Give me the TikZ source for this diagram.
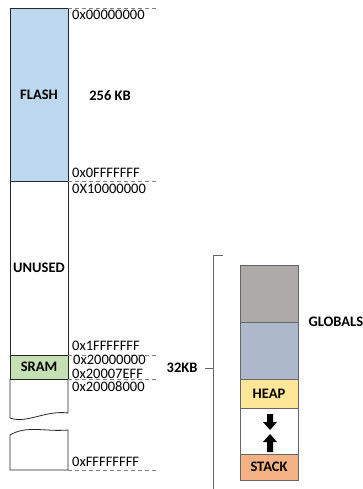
\documentclass[tikz,border=0pt]{standalone}
\usepackage{fontspec}
\setmainfont{Carlito}
\usetikzlibrary{positioning}
\definecolor{flashblue}{HTML}{BDD7EE}
\definecolor{sramgreen}{HTML}{C5E0B4}
\definecolor{globgray}{HTML}{AEAAAA}
\definecolor{globblue}{HTML}{ADB9CA}
\definecolor{heapyellow}{HTML}{FFE699}
\definecolor{stackorange}{HTML}{F4B183}
\newcommand{\labelfont}{\fontsize{14.5}{16}\selectfont}
\tikzstyle{region} = [rectangle, draw=black!85, line width=0.8pt, minimum width=58pt, inner sep=0pt, outer sep=0pt, font=\labelfont\bfseries]
\tikzstyle{seg} = [rectangle, draw=black!60, line width=0.9pt, minimum width=58pt, inner sep=0pt, outer sep=0pt, font=\labelfont\bfseries]
\tikzstyle{addr} = [anchor=west, inner sep=0pt, font=\labelfont]
\tikzstyle{note} = [font=\labelfont\bfseries]
\tikzstyle{sep} = [draw=black!50, line width=0.7pt, dash pattern=on 4pt off 3pt]
\tikzstyle{brace} = [draw=black!60, line width=0.9pt]

\begin{document}
\begin{tikzpicture}[x=1pt, y=-1pt]
\useasboundingbox (0,0) rectangle (363,489);

% memory map
\node (flash) [region, fill=flashblue, minimum height=173pt, anchor=north west] at (10,8) {FLASH};
\node (unused) [region, minimum height=174pt, below=0pt of flash] {UNUSED};
\node (sram) [region, fill=sramgreen, minimum height=24pt, below=0pt of unused] {SRAM};
\draw[line width=0.8pt, draw=black!85] (sram.south west) -- ++(0,39) .. controls (27,424) and (45,410) .. (68,413) -- (sram.south east);
\coordinate (endleft) at (10,470);
\coordinate (endright) at (68,470);
\draw[line width=0.8pt, draw=black!85] (10,435) .. controls (27,425) and (45,432) .. (68,430) -- (endright) -- (endleft) -- cycle;

\draw[sep] (flash.north east) -- ++(89,0);
\draw[sep] (flash.south east) -- ++(89,0);
\draw[sep] (unused.south east) -- ++(89,0);
\draw[sep] (sram.south east) -- ++(89,0);
\draw[sep] (endright) -- ++(89,0);

\node (a0) [addr] at (72,15) {0x00000000};
\node (a1) [addr] at (72,173) {0x0FFFFFFF};
\node (a2) [addr] at (72,189) {0X10000000};
\node (a3) [addr] at (72,346) {0x1FFFFFFF};
\node (a4) [addr] at (73,360) {0x20000000};
\node (a5) [addr] at (72,374) {0x20007EFF};
\node (a6) [addr] at (72,387) {0x20008000};
\node (a7) [addr] at (72,462) {0xFFFFFFFF};

\node (size) [note] at (110,96) {256 KB};

% sram detail
\node (glob1) [seg, fill=globgray, minimum height=57pt, anchor=north west] at (240,265) {};
\node (glob2) [seg, fill=globblue, minimum height=57pt, below=0pt of glob1] {};
\node (heap) [seg, fill=heapyellow, minimum height=29pt, below=0pt of glob2] {HEAP};
\node (gap) [seg, minimum height=46pt, below=0pt of heap] {};
\node (stack) [seg, fill=stackorange, minimum height=26pt, below=0pt of gap] {STACK};
\node (globals) [note, anchor=west] at (305,322) {GLOBALS};

\fill (267,414) -- (273,414) -- (273,422) -- (277,422) -- (270,430) -- (263,422) -- (267,422) -- cycle;
\fill (270,434) -- (277,442) -- (273,442) -- (273,452) -- (267,452) -- (267,442) -- (263,442) -- cycle;

\coordinate (bt) at (223,255);
\coordinate (bm) at (213,368);
\draw[brace] (bt) -- (213,255) -- (213,489);
\draw[brace] (bm) -- ++(-8,0);
\node (kb) [note, anchor=east] at (201,368) {32KB};

\end{tikzpicture}
\end{document}
